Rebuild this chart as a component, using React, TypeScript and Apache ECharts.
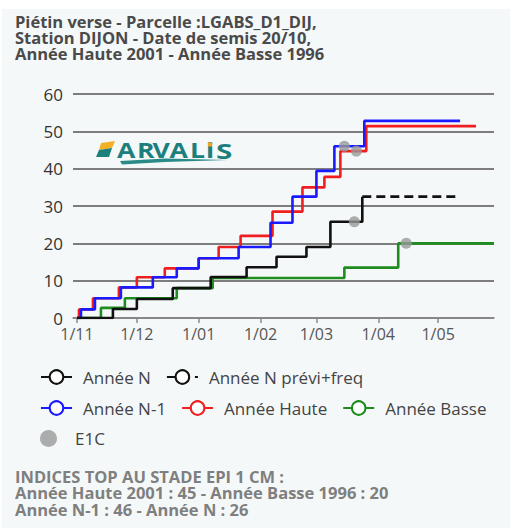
import React, { useEffect, useRef } from "react";
import * as echarts from "echarts";

const titleLines = [
  "Piétin verse - Parcelle :LGABS_D1_DIJ,",
  "Station DIJON - Date de semis 20/10,",
  "Année Haute 2001 - Année Basse 1996",
];
const footerLines = [
  "INDICES TOP AU STADE EPI 1 CM :",
  "Année Haute 2001 : 45 - Année Basse 1996 : 20",
  "Année N-1 : 46 - Année N : 26",
];
const logoLetters = ["A", "R", "V", "A", "L", "i", "S"];

const tickDates = ["2022-11-01", "2022-12-01", "2023-01-01", "2023-02-01", "2023-03-01", "2023-04-01", "2023-05-01"];
const axisMinDate = "2022-10-30";
const axisMaxDate = "2023-05-29";
const yTicks = [0, 10, 20, 30, 40, 50, 60];

const anneeN: [string, number][] = [
  ["2022-11-01", 0], ["2022-11-19", 2.4], ["2022-12-01", 5.1], ["2022-12-19", 8], ["2023-01-07", 11],
  ["2023-01-25", 13.6], ["2023-02-09", 16.4], ["2023-02-24", 19], ["2023-03-08", 25.8], ["2023-03-24", 32.5],
];
const anneeNPrevi: [string, number][] = [["2023-03-24", 32.5], ["2023-05-12", 32.5]];
const anneeN1: [string, number][] = [
  ["2022-11-01", 0], ["2022-11-03", 2.3], ["2022-11-10", 5.3], ["2022-11-23", 8.2], ["2022-12-09", 10.9],
  ["2022-12-21", 13.3], ["2023-01-01", 16], ["2023-01-21", 19], ["2023-02-06", 25.5], ["2023-02-17", 32.5],
  ["2023-03-01", 39.4], ["2023-03-10", 46], ["2023-03-25", 52.8], ["2023-05-12", 52.8],
];
const anneeHaute: [string, number][] = [
  ["2022-11-01", 0], ["2022-11-02", 2.3], ["2022-11-09", 5.3], ["2022-11-22", 8.2], ["2022-12-01", 10.9],
  ["2022-12-15", 13.3], ["2023-01-01", 16], ["2023-01-11", 19], ["2023-01-22", 22], ["2023-02-07", 28.5],
  ["2023-02-22", 35], ["2023-03-05", 37.8], ["2023-03-13", 44.7], ["2023-03-26", 51.4], ["2023-05-20", 51.4],
];
const anneeBasse: [string, number][] = [
  ["2022-11-01", 0], ["2022-11-13", 2.7], ["2022-11-25", 5.3], ["2022-12-21", 8], ["2023-01-08", 10.7],
  ["2023-03-15", 13.5], ["2023-04-11", 20], ["2023-05-29", 20],
];
const e1c: [string, number][] = [["2023-03-15", 46], ["2023-03-21", 44.7], ["2023-03-20", 25.8], ["2023-04-15", 20]];

const toTs = (s: string) => new Date(s + "T00:00:00").getTime();
const toPts = (arr: [string, number][]) => arr.map(([d, v]) => [toTs(d), v]);
const FONT = "Open Sans";

export default function App() {
  const ref = useRef<HTMLDivElement>(null);
  useEffect(() => {
    if (!ref.current) return;
    const chart = echarts.init(ref.current, undefined, { renderer: "svg" });
    const lineSeries = (name: string, data: [string, number][], color: string, dashed = false) => ({
      type: "line",
      name,
      data: toPts(data),
      step: "end",
      symbol: "emptyCircle",
      showSymbol: false,
      itemStyle: { color },
      lineStyle: { color, width: 2.6, type: dashed ? [9, 5] : "solid" },
    });
    const legendBase = {
      left: 35, itemWidth: 31, itemHeight: 17, itemGap: 15, padding: 5,
      textStyle: { fontSize: 17, color: "#444", fontFamily: FONT, padding: [0, 0, 0, 6] },
    };
    const lineText = (text: string, y: number, color: string) => ({
      type: "text",
      x: 15,
      y,
      style: { text, fontFamily: FONT, fontWeight: "bold", fontSize: 16.5, fill: color },
    });
    const letterX = [117, 137, 152.5, 169.5, 190, 206, 216];
    const letterScale = [1.3, 1.3, 1.3, 1.3, 1.3, 1.3, 1.45];
    chart.setOption({
      animation: false,
      backgroundColor: "#ffffff",
      textStyle: { fontFamily: FONT },
      graphic: [
        { type: "rect", z: -100, shape: { x: 2, y: 9, width: 508, height: 519 }, style: { fill: "#f5f8f9" } },
        ...titleLines.map((t, i) => lineText(t, 13 + i * 16.2, "#4a4a4a")),
        ...footerLines.map((t, i) => lineText(t, 467.5 + i * 16.5, "#7f7f7f")),
        {
          type: "group",
          z: 10,
          children: [
            { type: "polygon", shape: { points: [[101, 143], [115, 141], [112, 148], [99, 150]] }, style: { fill: "#f2b124" } },
            { type: "polygon", shape: { points: [[99, 150], [112, 148], [109, 157], [96, 157]] }, style: { fill: "#1d7f7c" } },
            ...logoLetters.map((ch, i) => ({
              type: "text",
              x: letterX[i],
              y: 140,
              scaleX: letterScale[i],
              style: { text: ch, fontFamily: FONT, fontWeight: "bold", fontSize: 20.5, fill: "#1d7f7c" },
            })),
            { type: "circle", shape: { cx: 210, cy: 144.5, r: 2.3 }, style: { fill: "#f2a21c" } },
            { type: "polygon", shape: { points: [[120, 161], [165, 158.5], [228, 160], [165, 162], [122, 164.5]] }, style: { fill: "#2a8a87" } },
          ],
        },
      ],
      grid: { left: 73, right: 16, top: 94, bottom: 212 },
      xAxis: {
        type: "value",
        min: toTs(axisMinDate),
        max: toTs(axisMaxDate),
        axisLine: { lineStyle: { color: "#8a8a8a", width: 1.5 } },
        axisTick: { show: true, length: 5, lineStyle: { color: "#8a8a8a", width: 1.5 }, customValues: tickDates.map(toTs) },
        axisLabel: {
          customValues: tickDates.map(toTs),
          margin: 8,
          fontSize: 16,
          color: "#555",
          fontFamily: FONT,
          formatter: (v: number) => {
            const d = new Date(v);
            return d.getDate() + "/" + String(d.getMonth() + 1).padStart(2, "0");
          },
        },
        splitLine: { show: false },
      },
      yAxis: {
        type: "value",
        min: yTicks[0],
        max: yTicks[yTicks.length - 1],
        interval: 10,
        axisLine: { show: false },
        axisTick: { show: false },
        axisLabel: { fontSize: 17, color: "#333", margin: 10, fontFamily: FONT },
        splitLine: { lineStyle: { color: "#555", width: 1.6 } },
      },
      legend: [
        { ...legendBase, top: 363.5, data: ["Année N", "Année N prévi+freq"] },
        { ...legendBase, top: 394.5, data: ["Année N-1", "Année Haute", "Année Basse"] },
        { ...legendBase, top: 425, data: [{ name: "E1C", icon: "circle" }] },
      ],
      series: [
        lineSeries("Année Basse", anneeBasse, "#1e8c1e"),
        lineSeries("Année Haute", anneeHaute, "#f01e1e"),
        lineSeries("Année N-1", anneeN1, "#1a1aff"),
        lineSeries("Année N", anneeN, "#111111"),
        lineSeries("Année N prévi+freq", anneeNPrevi, "#111111", true),
        {
          type: "scatter",
          name: "E1C",
          data: toPts(e1c),
          symbol: "circle",
          symbolSize: 11,
          itemStyle: { color: "#999999" },
          z: 5,
        },
      ],
    });
    return () => chart.dispose();
  }, []);
  return (
    <div style={{ position: "absolute", left: 0, top: 0, width: 510, height: 530 }}>
      <div ref={ref} style={{ width: 510, height: 530 }} />
    </div>
  );
}
